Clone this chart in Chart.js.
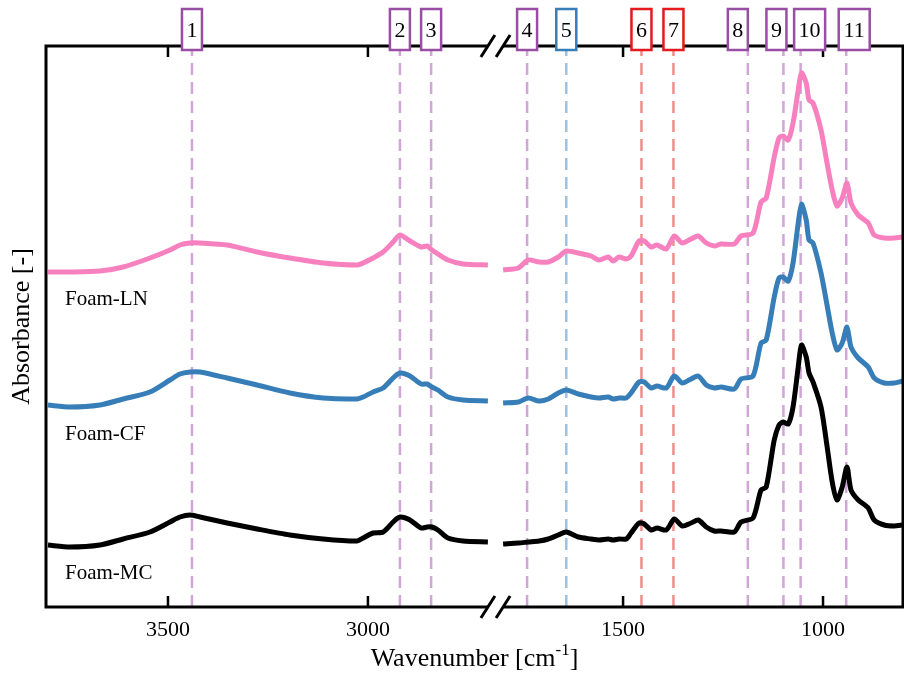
<!DOCTYPE html>
<html lang="en">
<head>
<meta charset="UTF-8">
<title>FTIR spectra of foams</title>
<script src="https://cdn.jsdelivr.net/npm/chart.js"></script>
<style>
  html, body { margin: 0; padding: 0; background: #fff; }
  #wrap { width: 904px; height: 674px; }
</style>
</head>
<body>
<div id="wrap"><canvas id="ftirChart"></canvas></div>
<script>
// wavenumbers (cm-1) of the two parts of the broken axis
const wnLeft = [3800, 3745, 3670, 3612, 3545, 3495, 3470, 3445, 3420, 3352, 3277, 3195, 3112, 3027, 3012, 2987, 2962, 2937, 2920, 2895, 2867, 2852, 2840, 2825, 2800, 2762, 2700];
const wnRight = [1800, 1762, 1737, 1710, 1687, 1662, 1642, 1612, 1580, 1560, 1537, 1525, 1510, 1492, 1480, 1460, 1447, 1430, 1415, 1392,
  1372, 1352, 1330, 1312, 1292, 1272, 1255, 1222, 1205, 1175, 1155, 1142, 1122, 1110, 1100, 1087, 1075, 1062, 1054, 1042,
  1035, 1025, 1005, 990, 977, 965, 952, 940, 930, 912, 887, 872, 847, 822, 800];

// absorbance (offset spectra, arbitrary units)
const lnLeft = [3.35, 3.35, 3.36, 3.40, 3.49, 3.57, 3.62, 3.64, 3.64, 3.62, 3.55, 3.49, 3.44, 3.42, 3.44, 3.49, 3.55, 3.65, 3.72, 3.66, 3.60, 3.61, 3.57, 3.53, 3.47, 3.43, 3.42];
const lnRight = [3.37, 3.39, 3.47, 3.45, 3.45, 3.50, 3.56, 3.54, 3.51, 3.47, 3.50, 3.46, 3.50, 3.48, 3.51, 3.66, 3.66, 3.60, 3.62, 3.58,
  3.71, 3.64, 3.68, 3.71, 3.64, 3.61, 3.63, 3.63, 3.71, 3.74, 4.05, 4.09, 4.50, 4.69, 4.71, 4.67, 4.84, 5.17, 5.34, 5.24,
  5.07, 5.04, 4.77, 4.44, 4.17, 4.01, 4.09, 4.24, 4.04, 3.92, 3.84, 3.72, 3.69, 3.69, 3.70];
const cfLeft = [2.02, 2.00, 2.02, 2.08, 2.15, 2.27, 2.33, 2.35, 2.35, 2.29, 2.22, 2.14, 2.09, 2.08, 2.10, 2.15, 2.19, 2.29, 2.34, 2.31, 2.23, 2.23, 2.20, 2.17, 2.10, 2.07, 2.06];
const cfRight = [2.04, 2.05, 2.09, 2.06, 2.08, 2.14, 2.17, 2.13, 2.10, 2.09, 2.10, 2.08, 2.09, 2.09, 2.14, 2.25, 2.25, 2.19, 2.21, 2.19,
  2.31, 2.24, 2.28, 2.31, 2.22, 2.19, 2.20, 2.18, 2.28, 2.31, 2.64, 2.67, 3.10, 3.29, 3.30, 3.26, 3.44, 3.84, 4.03, 3.87,
  3.67, 3.64, 3.34, 3.02, 2.74, 2.57, 2.64, 2.80, 2.60, 2.49, 2.40, 2.29, 2.24, 2.24, 2.26];
const mcLeft = [0.62, 0.60, 0.62, 0.68, 0.75, 0.85, 0.90, 0.92, 0.90, 0.84, 0.78, 0.72, 0.68, 0.66, 0.69, 0.74, 0.75, 0.85, 0.90, 0.87, 0.79, 0.80, 0.80, 0.77, 0.69, 0.66, 0.65];
const mcRight = [0.63, 0.64, 0.65, 0.66, 0.68, 0.72, 0.75, 0.70, 0.68, 0.67, 0.68, 0.67, 0.68, 0.68, 0.74, 0.84, 0.83, 0.77, 0.79, 0.77,
  0.88, 0.81, 0.84, 0.87, 0.80, 0.76, 0.76, 0.75, 0.85, 0.89, 1.17, 1.20, 1.67, 1.82, 1.85, 1.83, 2.00, 2.40, 2.62, 2.50,
  2.34, 2.25, 2.00, 1.61, 1.25, 1.07, 1.20, 1.40, 1.17, 1.07, 0.99, 0.87, 0.82, 0.81, 0.82];

const seriesNames = ['Foam-LN', 'Foam-CF', 'Foam-MC'];

// marked bands
const peakLabels = ['1', '2', '3', '4', '5', '6', '7', '8', '9', '10', '11'];
const peakWn = [3440, 2920, 2842, 1740, 1642, 1454, 1374, 1188, 1099, 1056, 942];
const peakGroup = ['p', 'p', 'p', 'p', 'b', 'r', 'r', 'p', 'p', 'p', 'p'];

const xTicks = [3500, 3000, 1500, 1000];

// broken axis: 3805-2700 | 1800-800, shifted onto one linear scale
const X_MAX = 3805, X_END = 800;
const BREAK_HI = 2700, BREAK_LO = 1800, GAP = 38;
const SHIFT = BREAK_HI - GAP - BREAK_LO;
const toAxis = w => (w >= BREAK_HI ? w : w + SHIFT);
const fromAxis = v => (v > BREAK_HI - GAP ? v : v - SHIFT);

const FONT = '"Liberation Serif", "DejaVu Serif", serif';
const boxColor = { p: '#984ea3', b: '#377eb8', r: '#e41a1c' };
const lineColor = { p: '#cfa6d6', b: '#9cc1e2', r: '#f18c8d' };
const boxShift = [0, 0, 0, 0, 0, 0, 0, -10, -7, 9, 8];

function spectrum(left, right) {
  const pts = wnLeft.map((w, i) => ({ x: toAxis(w), y: left[i] }));
  pts.push({ x: BREAK_HI - GAP / 2, y: null });
  return pts.concat(wnRight.map((w, i) => ({ x: toAxis(w), y: right[i] })));
}

const spectra = [
  { label: seriesNames[0], data: spectrum(lnLeft, lnRight), borderColor: '#f781bf' },
  { label: seriesNames[1], data: spectrum(cfLeft, cfRight), borderColor: '#377eb8' },
  { label: seriesNames[2], data: spectrum(mcLeft, mcRight), borderColor: '#000000' }
].map(d => Object.assign(d, { borderWidth: 5, pointRadius: 0, tension: 0.25, spanGaps: false, order: 0 }));

const bandLines = peakWn.map((w, i) => ({
  label: 'band ' + peakLabels[i],
  data: [{ x: toAxis(w), y: 0 }, { x: toAxis(w), y: 5.61 }],
  borderColor: lineColor[peakGroup[i]],
  borderWidth: 2.5,
  borderDash: [12, 7],
  pointRadius: 0,
  order: 1
}));

const brokenAxis = {
  id: 'brokenAxis',
  afterDraw(chart) {
    const { ctx, chartArea: a, scales: { x, y } } = chart;
    const xl = x.getPixelForValue(BREAK_HI);
    const xr = x.getPixelForValue(BREAK_LO + SHIFT);
    ctx.save();
    ctx.strokeStyle = '#000';
    ctx.lineWidth = 3;
    ctx.lineJoin = 'miter';
    ctx.beginPath();
    ctx.moveTo(xl, a.top); ctx.lineTo(a.left, a.top); ctx.lineTo(a.left, a.bottom); ctx.lineTo(xl, a.bottom);
    ctx.moveTo(xr, a.top); ctx.lineTo(a.right, a.top); ctx.lineTo(a.right, a.bottom); ctx.lineTo(xr, a.bottom);
    ctx.stroke();

    // break marks
    ctx.beginPath();
    [xl, xr].forEach(px => [a.top, a.bottom].forEach(py => {
      ctx.moveTo(px - 7, py + 11); ctx.lineTo(px + 7, py - 11);
    }));
    ctx.stroke();

    // inward ticks top and bottom
    ctx.lineWidth = 2.5;
    ctx.beginPath();
    xTicks.forEach(w => {
      const px = x.getPixelForValue(toAxis(w));
      ctx.moveTo(px, a.top); ctx.lineTo(px, a.top + 11);
      ctx.moveTo(px, a.bottom); ctx.lineTo(px, a.bottom - 11);
    });
    ctx.stroke();

    // band labels
    ctx.font = '22px ' + FONT;
    ctx.textAlign = 'center';
    ctx.textBaseline = 'middle';
    peakLabels.forEach((lab, i) => {
      const cx = x.getPixelForValue(toAxis(peakWn[i])) + boxShift[i];
      const w = lab.length > 1 ? 31 : 20;
      ctx.fillStyle = '#fff';
      ctx.fillRect(cx - w / 2, 9, w, 41);
      ctx.strokeStyle = boxColor[peakGroup[i]];
      ctx.lineWidth = 2.5;
      ctx.strokeRect(cx - w / 2, 9, w, 41);
      ctx.fillStyle = '#000';
      ctx.fillText(lab, cx, 31);
    });

    // series names
    ctx.font = '21px ' + FONT;
    ctx.textAlign = 'left';
    const nameY = [3.08, 1.73, 0.34];
    seriesNames.forEach((n, i) => ctx.fillText(n, a.left + 19, y.getPixelForValue(nameY[i])));

    // y title
    ctx.save();
    ctx.font = '26px ' + FONT;
    ctx.textAlign = 'center';
    ctx.translate(22, (a.top + a.bottom) / 2);
    ctx.rotate(-Math.PI / 2);
    ctx.fillText('Absorbance [-]', 0, 0);
    ctx.restore();

    // x title with superscript
    const main = 'Wavenumber [cm', sup = '-1', end = ']';
    ctx.font = '26px ' + FONT;
    const w1 = ctx.measureText(main).width, w3 = ctx.measureText(end).width;
    ctx.font = '17px ' + FONT;
    const w2 = ctx.measureText(sup).width;
    const tx = (a.left + a.right) / 2 - (w1 + w2 + w3) / 2;
    const ty = 659;
    ctx.textAlign = 'left';
    ctx.font = '26px ' + FONT;
    ctx.fillText(main, tx, ty);
    ctx.font = '17px ' + FONT;
    ctx.fillText(sup, tx + w1, ty - 8);
    ctx.font = '26px ' + FONT;
    ctx.fillText(end, tx + w1 + w2, ty);
    ctx.restore();
  }
};

new Chart(document.getElementById('ftirChart'), {
  type: 'line',
  data: { datasets: spectra.concat(bandLines) },
  options: {
    responsive: true,
    maintainAspectRatio: false,
    animation: false,
    layout: { padding: { left: 46, top: 46, right: 1, bottom: 20.6 } },
    plugins: { legend: { display: false }, tooltip: { enabled: false } },
    scales: {
      x: {
        type: 'linear',
        reverse: true,
        min: toAxis(X_END),
        max: X_MAX,
        afterBuildTicks: axis => { axis.ticks = xTicks.map(w => ({ value: toAxis(w) })); },
        ticks: {
          callback: v => fromAxis(v),
          color: '#000',
          font: { family: FONT, size: 22 },
          padding: 10,
          maxRotation: 0,
          autoSkip: false
        },
        grid: { display: false, drawTicks: false },
        border: { display: false }
      },
      y: { display: false, min: 0, max: 5.61 }
    }
  },
  plugins: [brokenAxis]
});
</script>
</body>
</html>
